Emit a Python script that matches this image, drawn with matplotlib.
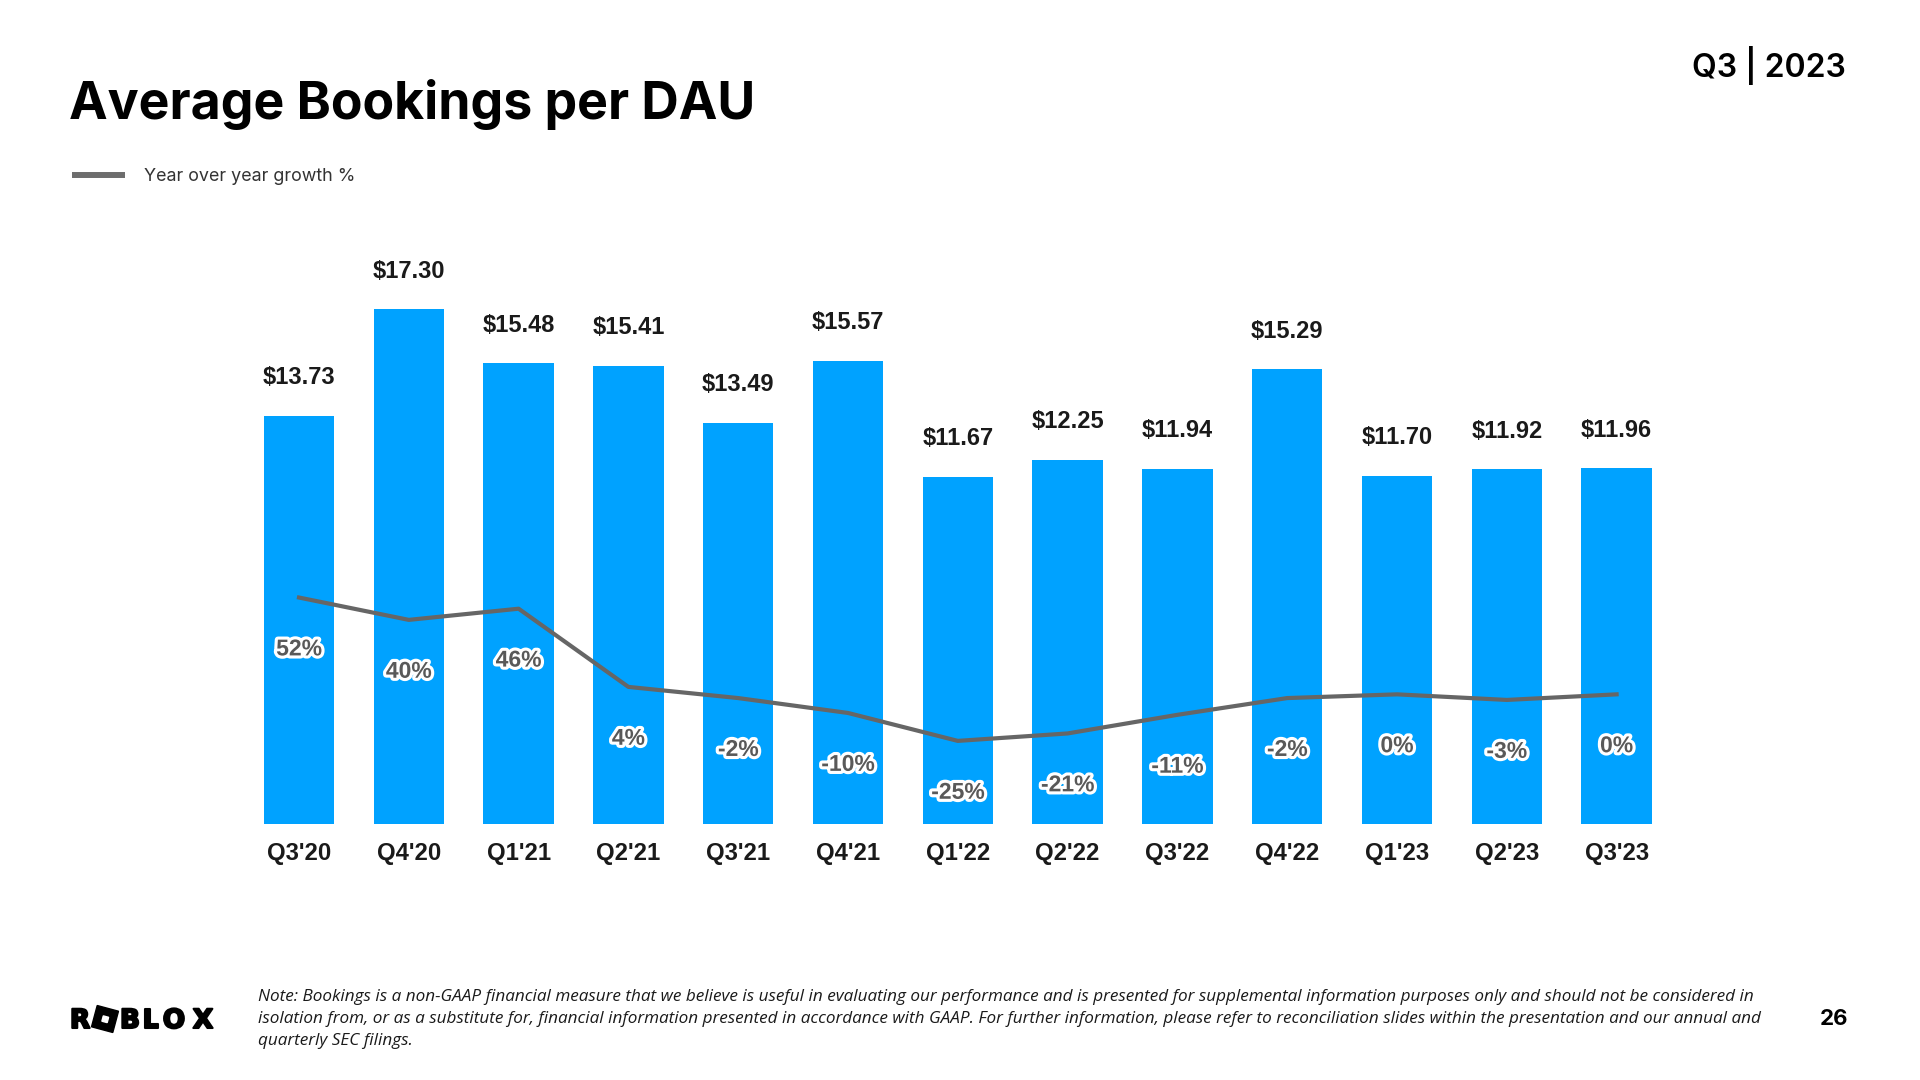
import matplotlib.pyplot as plt
import matplotlib.patheffects as pe
from matplotlib.lines import Line2D
from matplotlib.patches import Rectangle

quarters = ["Q3'20", "Q4'20", "Q1'21", "Q2'21", "Q3'21", "Q4'21", "Q1'22",
            "Q2'22", "Q3'22", "Q4'22", "Q1'23", "Q2'23", "Q3'23"]
bookings_per_dau = [13.73, 17.30, 15.48, 15.41, 13.49, 15.57, 11.67,
                    12.25, 11.94, 15.29, 11.70, 11.92, 11.96]
yoy_growth = [52, 40, 46, 4, -2, -10, -25, -21, -11, -2, 0, -3, 0]

note_lines = [
    "Note: Bookings is a non-GAAP financial measure that we believe is useful in evaluating our performance and is presented for supplemental information purposes only and should not be considered in",
    "isolation from, or as a substitute for, financial information presented in accordance with GAAP. For further information, please refer to reconciliation slides within the presentation and our annual and",
    "quarterly SEC filings.",
]

BLUE = '#00A2FF'
GREY = '#666666'

fig = plt.figure(figsize=(19.2, 10.8), dpi=100)

# overlay axes in pixel coordinates for the slide furniture
ov = fig.add_axes([0, 0, 1, 1])
ov.set_xlim(0, 1920)
ov.set_ylim(1080, 0)
ov.axis('off')

# main chart
ax = fig.add_axes([244.1 / 1920, 255.7 / 1080, 1427.4 / 1920, 595.4 / 1080])
ax.patch.set_alpha(0)
x = list(range(len(quarters)))
ax.bar(x, bookings_per_dau, width=0.64, color=BLUE)
ax.set_xlim(-0.5, 12.5)
ax.set_ylim(0, 20)
ax.set_yticks([])
ax.set_xticks(x, quarters)
ax.tick_params(axis='x', length=0, pad=13)
for lab in ax.get_xticklabels():
    lab.set_fontfamily('Liberation Sans')
    lab.set_fontweight('bold')
    lab.set_fontsize(17.2)
    lab.set_color('#1a1a1a')
for s in ax.spines.values():
    s.set_visible(False)

for i, v in zip(x, bookings_per_dau):
    ax.annotate(f'${v:.2f}', (i, v), xytext=(0, 27.4), textcoords='offset points',
                ha='center', va='center', fontsize=17, fontweight='bold',
                family='Liberation Sans', color='#1a1a1a')

# growth line on its own scale
ax2 = ax.twinx()
ax2.set_ylim(-69.8, 250)
ax2.plot(x, yoy_growth, color=GREY, lw=3, solid_joinstyle='round')
ax2.set_yticks([])
for s in ax2.spines.values():
    s.set_visible(False)

for i, g in zip(x, yoy_growth):
    ax2.annotate(f'{g}%', (i, g), xytext=(0, -37), textcoords='offset points',
                 ha='center', va='center', fontsize=16.5, fontweight='bold',
                 family='Liberation Sans', color='#595959',
                 path_effects=[pe.withStroke(linewidth=4.5, foreground='white')])

# title and header
ov.text(69, 119.3, 'Average Bookings per DAU', fontsize=37.3, fontweight='bold',
        family='Inter', color='black', va='baseline', ha='left')
ov.text(1846, 76.7, 'Q3 | 2023', fontsize=23, fontweight='semibold',
        family='Inter', color='black', va='baseline', ha='right')

# legend
ov.add_line(Line2D([72, 125], [174.5, 174.5], lw=4.3, color='#6d6d6d',
                   solid_capstyle='butt'))
ov.text(144, 180.7, 'Year over year growth %', fontsize=12.9, fontweight='normal',
        family='Inter', color='#333333', va='baseline', ha='left')

# footer note
for k, line in enumerate(note_lines):
    ov.text(258, 1001 + 22 * k, line, fontsize=12.35, style='italic',
            family='Open Sans', color='#1a1a1a', va='baseline', ha='left')

ov.text(1834, 1019, '26', fontsize=16, fontweight='bold', family='Inter',
        color='black', va='center', ha='center')

# logo
logo_font = dict(fontsize=19, fontweight='bold', family='DejaVu Sans',
                 color='black', va='baseline', ha='center',
                 path_effects=[pe.withStroke(linewidth=1.5, foreground='black')])
for ch, cx in zip(['R', 'B', 'L', 'O', 'X'], [80, 130, 150.5, 174, 203]):
    ov.text(cx, 1028, ch, **logo_font)
ov.add_patch(Rectangle((94, 1008), 22, 22, angle=15, rotation_point='center',
                       color='black'))
ov.add_patch(Rectangle((102.5, 1016.5), 5.5, 5.5, angle=15, rotation_point='center',
                       color='white'))

fig.savefig('out.png', dpi=100)
